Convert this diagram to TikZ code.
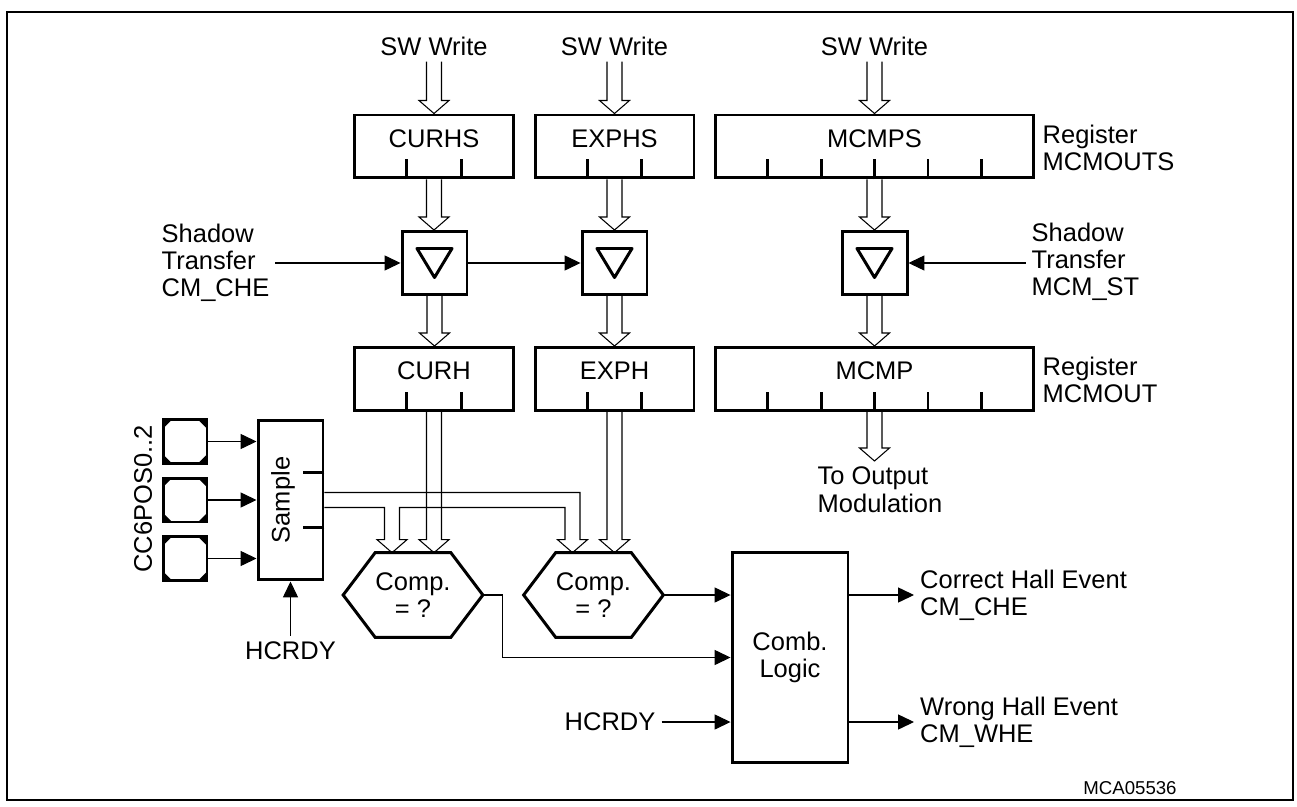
\documentclass[tikz,border=0pt]{standalone}
\usepackage{fontspec}
\setmainfont{Liberation Sans}
\usetikzlibrary{arrows.meta, positioning, calc}

% hollow bus arrow, straight down from #1 to #2
\newcommand{\busarrow}[2]{%
  \draw[busline] let \p1=(#1), \p2=(#2) in
    (\x1-0.15cm,\y1) -- (\x1-0.15cm,\y2+0.26cm) -- (\x1-0.3cm,\y2+0.26cm)
    -- (\x1,\y2) -- (\x1+0.3cm,\y2+0.26cm) -- (\x1+0.15cm,\y2+0.26cm)
    -- (\x1+0.15cm,\y1);}

\begin{document}
\begin{tikzpicture}[
    x=0.02cm, y=-0.02cm,
    every node/.style={font=\fontsize{14.5}{15.5}\selectfont},
    reg/.style={draw, line width=1.7pt, minimum height=1.26cm, inner sep=0pt,
                text height=10.5pt, text depth=9.8pt},
    latch/.style={draw, line width=1.7pt, minimum width=1.3cm, minimum height=1.26cm,
                  inner sep=0pt},
    box/.style={draw, line width=1.7pt, inner sep=0pt, align=center},
    comp/.style={minimum width=2.78cm, minimum height=1.68cm, inner sep=0pt, align=center},
    hexa/.style={line width=1.7pt, line join=miter},
    pad/.style={draw, line width=1.7pt, minimum size=0.88cm, inner sep=0pt,
                path picture={
                  \fill (path picture bounding box.north west) -- ++(0.18cm,0) -- ++(-0.18cm,-0.18cm) -- cycle;
                  \fill (path picture bounding box.north east) -- ++(-0.18cm,0) -- ++(0.18cm,-0.18cm) -- cycle;
                  \fill (path picture bounding box.south west) -- ++(0.18cm,0) -- ++(-0.18cm,0.18cm) -- cycle;
                  \fill (path picture bounding box.south east) -- ++(-0.18cm,0) -- ++(0.18cm,0.18cm) -- cycle;}},
    tick/.style={line width=1.7pt},
    tri/.style={line width=1.7pt, line join=round},
    sig/.style={-{Triangle[length=9pt,width=8.5pt]}, line width=0.6pt},
    busline/.style={line width=0.6pt},
    lbl/.style={align=left}
]
\useasboundingbox (0,0) rectangle (1297,807);
\draw[line width=1.4pt] (7,12) rectangle (1293,800);

% Software write inputs
\node (sw1) at (434,46) {SW Write};
\node (sw2) at (614.5,46) {SW Write};
\node (sw3) at (874.5,46) {SW Write};

% Shadow registers
\node[reg, minimum width=3.2cm] (curhs) at (434,146.5) {CURHS};
\node[reg, minimum width=3.18cm] (exphs) at (614.5,146.5) {EXPHS};
\node[reg, minimum width=6.36cm] (mcmps) at (874.5,146.5) {MCMPS};
\node[lbl, anchor=west] (regs) at (1036.5,148) {Register\\MCMOUTS};

% Shadow transfer latches
\node[latch] (lat1) at (434.5,263) {};
\node[latch] (lat2) at (614.5,263) {};
\node[latch] (lat3) at (874.5,263) {};
\foreach \l in {lat1,lat2,lat3}
  \draw[tri] ($(\l)+(-17.5,-14.5)$) -- ($(\l)+(17.5,-14.5)$) -- ($(\l)+(0,14.5)$) -- cycle;
\node[lbl, anchor=west] (st1) at (155.5,263) {Shadow\\Transfer\\CM\_CHE};
\node[lbl, anchor=west] (st2) at (1025.5,262) {Shadow\\Transfer\\MCM\_ST};

% Active registers
\node[reg, minimum width=3.2cm] (curh) at (434,379) {CURH};
\node[reg, minimum width=3.18cm] (exph) at (614.5,379) {EXPH};
\node[reg, minimum width=6.36cm] (mcmp) at (874.5,379) {MCMP};
\node[lbl, anchor=west] (regm) at (1036.5,380) {Register\\MCMOUT};
\node[lbl, anchor=north] (out) at (880,461) {To Output\\Modulation};

% Bit ticks
\foreach \r/\m in {curhs/2,exphs/2,mcmps/5,curh/2,exph/2,mcmp/5}
  \foreach \i in {1,...,\m}
    \draw[tick] ($(\r.south west)!{\i/(\m+1)}!(\r.south east)$) -- ++(0,-20);

% Hall inputs and sampling
\node[pad] (pad1) at (185,441.5) {};
\node[pad] (pad2) at (185,500) {};
\node[pad] (pad3) at (185,558.5) {};
\node[rotate=90] (pos) at (143,499) {CC6POS0..2};
\node[box, minimum width=1.3cm, minimum height=3.2cm] (sample) at (290.5,500) {};
\node[rotate=90] (sample-t) at (283,500) {Sample};
\foreach \i in {1,2}
  \draw[tick] ($(sample.north east)!{\i/3}!(sample.south east)$) -- ++(-21,0);
\node (hcrdy1) at (290.5,651) {HCRDY};

% Compare and logic
\node[comp] (comp1) at (413,595) {Comp.\\= ?};
\node[comp] (comp2) at (593.5,595) {Comp.\\= ?};
\foreach \c in {comp1,comp2}
  \draw[hexa] (\c.west) -- ($(\c.north west)+(32,0)$) -- ($(\c.north east)+(-32,0)$)
    -- (\c.east) -- ($(\c.south east)+(-32,0)$) -- ($(\c.south west)+(32,0)$) -- cycle;
\node[box, minimum width=2.32cm, minimum height=4.22cm] (comb) at (790,657.5) {Comb.\\Logic};
\node (hcrdy2) at (610,722) {HCRDY};
\node[lbl, anchor=west] (che) at (914,595) {Correct Hall Event\\CM\_CHE};
\node[lbl, anchor=west] (whe) at (914,722) {Wrong Hall Event\\CM\_WHE};
\node[font=\fontsize{10.6}{12}\selectfont] (id) at (1130,788) {MCA05536};

% Bus arrows
\busarrow{sw1.south}{curhs.north}
\busarrow{sw2.south}{exphs.north}
\busarrow{sw3.south}{mcmps.north}
\busarrow{curhs.south}{lat1.north}
\busarrow{exphs.south}{lat2.north}
\busarrow{mcmps.south}{lat3.north}
\busarrow{lat1.south}{curh.north}
\busarrow{lat2.south}{exph.north}
\busarrow{lat3.south}{mcmp.north}
\busarrow{mcmp.south}{out.north}
\busarrow{curh.south}{comp1.north}
\busarrow{exph.south}{comp2.north}

% Sampled bus to both comparators
\draw[busline] let \p1=(sample.east), \p2=(comp1.north), \p3=(comp2.north) in
  (\x1,\y1+0.15cm) -- (\x3-0.27cm,\y1+0.15cm) -- (\x3-0.27cm,\y3+0.26cm)
  -- (\x3-0.12cm,\y3+0.26cm) -- (\x3-0.42cm,\y3) -- (\x3-0.72cm,\y3+0.26cm)
  -- (\x3-0.57cm,\y3+0.26cm) -- (\x3-0.57cm,\y1-0.15cm)
  -- (\x2-0.27cm,\y1-0.15cm) -- (\x2-0.27cm,\y2+0.26cm)
  -- (\x2-0.12cm,\y2+0.26cm) -- (\x2-0.42cm,\y2) -- (\x2-0.72cm,\y2+0.26cm)
  -- (\x2-0.57cm,\y2+0.26cm) -- (\x2-0.57cm,\y1-0.15cm) -- (\x1,\y1-0.15cm);

% Control signals
\draw[sig] (st1.east |- lat1) -- (lat1.west);
\draw[sig] (lat1.east) -- (lat2.west);
\draw[sig] (st2.west |- lat3) -- (lat3.east);
\draw[sig] (pad1) -- (pad1 -| sample.west);
\draw[sig] (pad2) -- (pad2 -| sample.west);
\draw[sig] (pad3) -- (pad3 -| sample.west);
\draw[sig] (hcrdy1) -- (sample);
\draw[sig] (comp2.east) -- (comp2.east -| comb.west);
\draw[sig] (comp1.east) -- ++(20,0) |- (comb.west);
\draw[sig] (hcrdy2) -- (hcrdy2 -| comb.west);
\draw[sig] (che.west -| comb.east) -- (che.west);
\draw[sig] (whe.west -| comb.east) -- (whe.west);

\end{tikzpicture}
\end{document}
